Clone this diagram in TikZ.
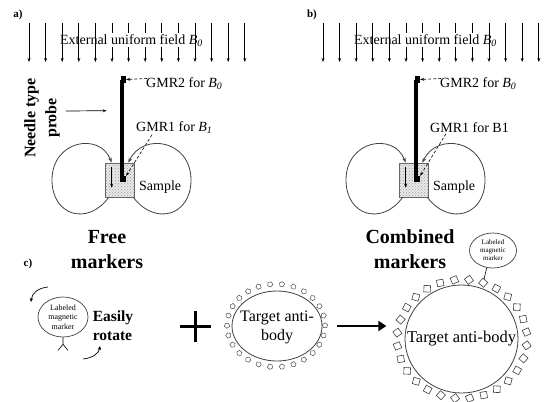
\documentclass[tikz,border=0pt]{standalone}
\usepackage{fontspec}
\setmainfont{Liberation Serif}
\usetikzlibrary{arrows.meta,shapes.geometric,patterns,calc}

\newcommand\fsz[2]{\fontsize{#1}{#2}\selectfont}
\newcommand\Bsub[1]{\textit{B}\textsubscript{\textit{#1}}}

\tikzset{
  panellabel/.style={font=\bfseries\fsz{11}{13}, inner sep=0pt},
  txt/.style={font=\fsz{14}{16}, inner sep=0pt},
  bigtext/.style={font=\bfseries\fsz{20}{25}, align=center, inner sep=0pt},
  fieldarrow/.style={line width=0.7pt, -{Stealth[length=4pt,width=3pt]}},
  fieldseg/.style={line width=0.7pt},
  needle/.style={line width=3.5pt},
  sensor/.style={fill, inner sep=0pt},
  pointer/.style={densely dashed, line width=0.6pt, -{Stealth[length=4pt,width=3pt]}},
  loopline/.style={line width=0.8pt, draw=black!75, -{Stealth[length=5pt,width=3.5pt]}},
  samplebox/.style={draw=black!60, line width=0.6pt, minimum width=29pt, minimum height=34pt,
    inner sep=0pt, preaction={fill=gray!18}, pattern=crosshatch dots, pattern color=gray!75},
  markerell/.style={ellipse, draw=black!75, line width=0.7pt, inner sep=0pt, align=center},
  targetell/.style={ellipse, draw=black!75, line width=0.8pt, inner sep=0pt},
  rotarrow/.style={line width=0.7pt, -{Stealth[length=4pt,width=3.5pt]}},
  penta/.style={regular polygon, regular polygon sides=5, minimum size=5.5pt, inner sep=0pt,
    draw=black!70, line width=0.5pt, fill=white},
  sqbox/.style={rectangle, minimum size=6.5pt, inner sep=0pt, draw=black!75, line width=0.6pt, fill=white},
}

% One field/probe panel: #1 name prefix, #2 horizontal offset, #3 label, #4 GMR1 caption
\newcommand\fieldpanel[4]{%
\begin{scope}[xshift=#2]
  \node[panellabel] (#1-lab) at (18,15) {#3};
  % external uniform field
  \foreach \i in {0,...,4,10,11,12,13}
    \draw[fieldarrow] ({29+16.6*\i},23) -- ({29+16.6*\i},62);
  \foreach \i in {5,...,9}{
    \draw[fieldseg] ({29+16.6*\i},23) -- ({29+16.6*\i},33);
    \draw[fieldarrow] ({29+16.6*\i},47) -- ({29+16.6*\i},62);
  }
  \node[txt] (#1-field) at (131.5,41) {External uniform field \Bsub{0}};
  % sample with the needle probe
  \node[samplebox] (#1-box) at (119.5,180) {};
  \draw[needle] (122,80) -- (122,177);
  \node[sensor, minimum width=5pt, minimum height=7pt] (#1-gmr2s) at (123.5,79.5) {};
  \node[sensor, minimum size=6pt] (#1-gmr1s) at (123,179) {};
  \node[txt, anchor=west] (#1-gmr2) at (146,83.5) {GMR2 for \Bsub{0}};
  \draw[pointer] ($(#1-gmr2.west)+(1,-5)$) -- (#1-gmr2s.east);
  \node[txt, anchor=west] (#1-gmr1) at (136,127.5) {#4};
  \draw[pointer] ($(#1-gmr1.south west)+(16,1)$) -- (#1-gmr1s.north east);
  \node[txt, anchor=west] (#1-sample) at (139,187) {Sample};
  % field lines of the sample
  \draw[loopline] ([xshift=4pt]#1-box.south west) .. controls (88,226) and (52,216) .. (52,180)
     .. controls (52,140) and (100,132) .. ([xshift=7pt]#1-box.north west);
  \draw[loopline] ([xshift=-1pt]#1-box.south east) .. controls (155,226) and (191,216) .. (191,180)
     .. controls (191,140) and (143,132) .. ([xshift=-6pt]#1-box.north east);
  \draw[fieldarrow] ([xshift=7pt,yshift=-4pt]#1-box.north west) -- ++(0,21);
\end{scope}}

\begin{document}
\begin{tikzpicture}[x=1pt,y=-1pt]
\useasboundingbox (0,0) rectangle (545,401);

\fieldpanel{a}{0pt}{a)}{GMR1 for \Bsub{1}}
\fieldpanel{b}{294pt}{b)}{GMR1 for B1}

% probe caption
\node[font=\bfseries\fsz{16}{21}, rotate=90, align=center, inner sep=0pt] (probe) at (42,118) {Needle type\\probe};
\draw[fieldarrow] ($(probe.south)+(6,-7)$) -- ($(a-box.north west)+(2,-52)$);

\node[bigtext] (free) at (107,250) {Free\\markers};
\node[bigtext] (comb) at (410,249) {Combined\\markers};

% c) free marker
\node[panellabel] (c-lab) at (28,264) {c)};
\node[markerell, font=\fsz{8}{9.5}, minimum width=50pt, minimum height=40pt] (mk1) at (63,317) {Labeled\\magnetic\\marker};
\coordinate (mk1-j) at ($(mk1.south)+(0,7)$);
\draw[line width=0.6pt] (mk1.south) -- (mk1-j) -- ++(-5,6);
\draw[line width=0.6pt] (mk1-j) -- ++(5,6);
\draw[rotarrow] ($(mk1)+(-15,-30)$) .. controls ($(mk1)+(-25,-29)$) and ($(mk1)+(-31,-24)$) .. ($(mk1)+(-32,-15)$);
\draw[rotarrow] ($(mk1)+(20,42)$) .. controls ($(mk1)+(30,41)$) and ($(mk1)+(36,36)$) .. ($(mk1)+(37,29)$);
\node[font=\bfseries\fsz{15.5}{19}, align=left, inner sep=0pt] (rot) at (113,326) {Easily\\rotate};

% plus sign
\coordinate (plus) at (195,326);
\draw[line width=3pt] ($(plus)+(-15,0)$) -- ($(plus)+(16,0)$);
\draw[line width=3pt] ($(plus)+(0,-15)$) -- ($(plus)+(0,16)$);

% free target anti-body
\node[targetell, minimum width=90pt, minimum height=70pt] (t1) at (277,326) {};
\foreach \k in {0,...,25}{
  \pgfmathsetmacro\ang{360/26*\k}
  \node[penta, rotate=\ang] at ({276+49*cos(\ang)},{325.5+41.5*sin(\ang)}) {};
}
\node[font=\fsz{16}{19}, align=center, inner sep=0pt] (t1-text) at (277,327) {Target anti-\\body};

% reaction arrow
\draw[line width=2.6pt, -{Triangle[length=8pt,width=10pt]}] ([xshift=15pt]t1.east) -- ++(49,0);

% combined: anti-body carrying the marker
\node[targetell, minimum width=113pt, minimum height=108pt] (t2) at (461.5,339) {};
\foreach \k in {0,...,27}{
  \pgfmathsetmacro\ang{-71+360/28*\k}
  \node[sqbox, rotate=\ang+30] (sq\k) at ({462+65*cos(\ang)},{339+59.5*sin(\ang)}) {};
}
\node[font=\fsz{16.5}{19}, inner sep=0pt] (t2-text) at (461.5,339) {Target anti-body};
\node[markerell, font=\fsz{7}{8}, minimum width=47pt, minimum height=35pt] (mk2) at (493,250.5) {Labeled\\magnetic\\marker};
\draw[line width=0.6pt, shorten >=3.5pt] (mk2.250) -- (sq0.center);
\end{tikzpicture}
\end{document}
